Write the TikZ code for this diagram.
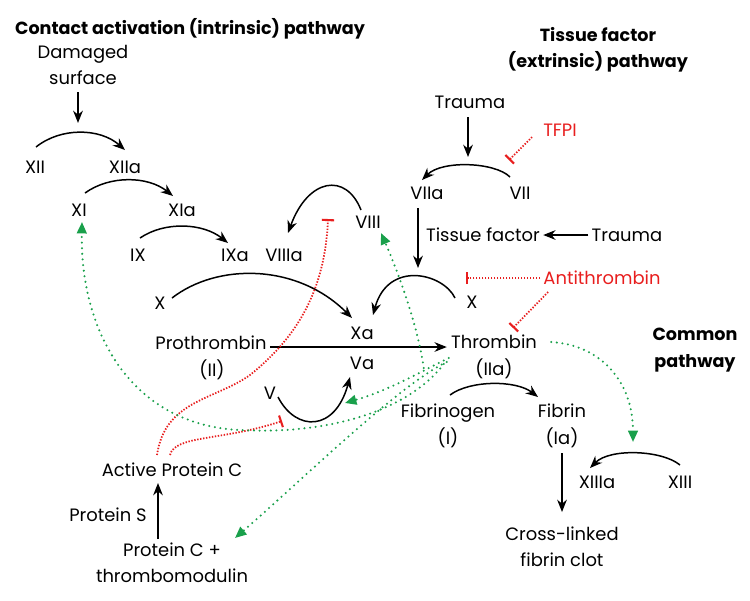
\documentclass[tikz,border=0pt]{standalone}
\usepackage{fontspec}
\setmainfont{Poppins}
\usetikzlibrary{arrows.meta,calc}
\definecolor{gr}{RGB}{25,160,75}
\definecolor{rd}{RGB}{232,30,30}
\begin{document}
\begin{tikzpicture}[x=0.02cm,y=-0.02cm,
 lbl/.style={inner sep=0pt, font=\fontsize{10.2}{15}\selectfont, align=center},
 ttl/.style={inner sep=0pt, font=\fontsize{10}{15}\selectfont\bfseries, align=center},
 rlbl/.style={lbl, text=rd},
 arr/.style={line width=0.85pt,-{Stealth[length=7pt,width=5.5pt]}},
 act/.style={gr, line width=1.3pt, dash pattern=on 0pt off 3.2pt, line cap=round, -{Triangle[length=6.5pt,width=5.5pt]}},
 inh/.style={rd, line width=1pt, dash pattern=on 0.8pt off 0.9pt, -{Bar[width=7pt,line width=1.2pt]}},
]
\useasboundingbox (0,0) rectangle (750,600);
% titles
\node[ttl] (t1) at (190,29) {Contact activation (intrinsic) pathway};
\node[ttl] (t2) at (598,50) {Tissue factor\\(extrinsic) pathway};
\node[ttl] (cp) at (695,350) {Common\\pathway};
% intrinsic
\node[lbl] (dmg) at (83,65) {Damaged\\surface};
\node[lbl] (xii) at (35,167) {XII};
\node[lbl] (xiia) at (125,167) {XIIa};
\node[lbl] (xi) at (79,210) {XI};
\node[lbl] (xia) at (182,210) {XIa};
\node[lbl] (ix) at (138,255) {IX};
\node[lbl] (ixa) at (235,255) {IXa};
\node[lbl] (viiia) at (284,255) {VIIIa};
\node[lbl] (viii) at (368,222) {VIII};
\node[lbl] (xL) at (160,303) {X};
\node[lbl] (xa) at (362,333) {Xa};
\node[lbl] (va) at (362,363) {Va};
\node[lbl] (pro) at (211,343) {Prothrombin};
\node[lbl] (proII) at (212,370) {(II)};
\node[lbl] (v) at (270,393) {V};
\node[lbl] (apc) at (172,470) {Active Protein C};
\node[lbl] (ps) at (108,515) {Protein S};
\node[lbl] (pc) at (172,563) {Protein C +\\thrombomodulin};
% extrinsic
\node[lbl] (tr1) at (470,102) {Trauma};
\node[rlbl] (tfpi) at (560,130) {TFPI};
\node[lbl] (viia) at (427,193) {VIIa};
\node[lbl] (vii) at (520,193) {VII};
\node[lbl] (tf) at (483,235) {Tissue factor};
\node[lbl] (tr2) at (627,235) {Trauma};
\node[lbl] (xR) at (472,302) {X};
\node[rlbl] (at) at (602,278) {Antithrombin};
% common
\node[lbl] (thr) at (494,342) {Thrombin};
\node[lbl] (thrII) at (494,369) {(IIa)};
\node[lbl] (fbg) at (448,426) {Fibrinogen\\(I)};
\node[lbl] (fib) at (562,426) {Fibrin\\(Ia)};
\node[lbl] (xiiia) at (597,482) {XIIIa};
\node[lbl] (xiii) at (680,482) {XIII};
\node[lbl] (clot) at (562,547) {Cross-linked\\fibrin clot};
% target points on reaction arcs
\coordinate (a1) at (78,123);
\coordinate (h1) at (468,157);
\coordinate (h2) at (509,160);
\coordinate (f1) at (418,268);
\coordinate (f2) at (466,278);
\coordinate (g1) at (345,403);
\coordinate (g2) at (282,421);
\coordinate (d1) at (328,219);
\coordinate (x13) at (633,442);
% black reactions
\draw[arr] ($(dmg)+(-5,27)$) -- (a1);
\draw[arr] ($(xii)+(1,-20)$) .. controls +(25,-20) and +(-25,-22) .. ($(xiia)+(0,-17)$);
\draw[arr] ($(xi)+(6,-17)$) .. controls +(25,-18) and +(-25,-20) .. ($(xia)+(-9,-14)$);
\draw[arr] ($(ix)+(2,-17)$) .. controls +(25,-17) and +(-25,-20) .. ($(ixa)+(-7,-12)$);
\draw[arr] ($(viii)+(-7,-12)$) .. controls +(-15,-38) and +(20,-55) .. ($(viiia)+(4,-22)$);
\draw[arr] ($(xL)+(12,-5)$) .. controls +(45,-35) and +(-55,-55) .. ($(xa)+(-10,-15)$);
\draw[arr] ($(xR)+(-17,-4)$) .. controls +(-12,-25) and +(15,-55) .. ($(xa)+(11,-18)$);
\draw[arr] ($(pro.east)+(3,4)$) -- ($(thr.west)+(-4,5)$);
\draw[arr] ($(v)+(8,4)$) .. controls +(18,35) and +(-15,55) .. ($(va)+(-12,14)$);
\draw[arr] ($(pc)+(-14,-24)$) -- ($(apc)+(-14,13)$);
\draw[arr] ($(tr1)+(-2,15)$) -- (h1);
\draw[arr] ($(vii)+(-10,-16)$) .. controls +(-15,-15) and +(20,-20) .. ($(viia)+(-5,-13)$);
\draw[arr] ($(viia)+(-9,15)$) -- (f1);
\draw[arr] ($(tr2.west)+(-3,0)$) -- ($(tf.east)+(3,0)$);
\draw[arr] ($(fbg)+(2,-31)$) .. controls +(20,-15) and +(-22,-17) .. ($(fib)+(-24,-29)$);
\draw[arr] ($(fib)+(0,27)$) -- ($(clot)+(0,-35)$);
\draw[arr] ($(xiii)+(0,-17)$) .. controls +(-18,-15) and +(20,-20) .. ($(xiiia)+(-7,-14)$);
% inhibitions
\draw[inh] ($(tfpi)+(-28,7)$) -- (h2);
\draw[inh] ($(at.west)+(-3,0)$) -- (f2);
\draw[inh] ($(at.west)+(5,14)$) -- ($(thr)+(19,-14)$);
\draw[inh] ($(apc)+(-15,-15)$) .. controls +(8,-55) and +(-35,25) .. (250,375) .. controls +(50,-40) and +(-3,68) .. (d1);
\draw[inh] ($(apc)+(-2,-15)$) .. controls +(5,-20) and +(-60,20) .. (g2);
% thrombin feedback
\draw[act] ($(thr.east)+(14,0)$) .. controls +(50,3) and +(0,-60) .. (x13);
\draw[act] ($(thr.west)+(-27,26)$) .. controls +(-7,-48) and +(14,32) .. ($(viii)+(13,11)$);
\draw[act] ($(thr.west)+(-2,16)$) .. controls +(-25,12) and +(45,-13) .. (g1);
\draw[act] ($(thr.west)+(-4,20)$) .. controls +(-48,23) and +(67,-58) .. ($(pc)+(63,-25)$);
\draw[act] ($(thr.west)+(-7,22)$) .. controls +(-35,46) and +(90,5) .. (240,430) .. controls +(-110,-5) and +(-2,108) .. ($(xi)+(3,12)$);
\end{tikzpicture}
\end{document}
